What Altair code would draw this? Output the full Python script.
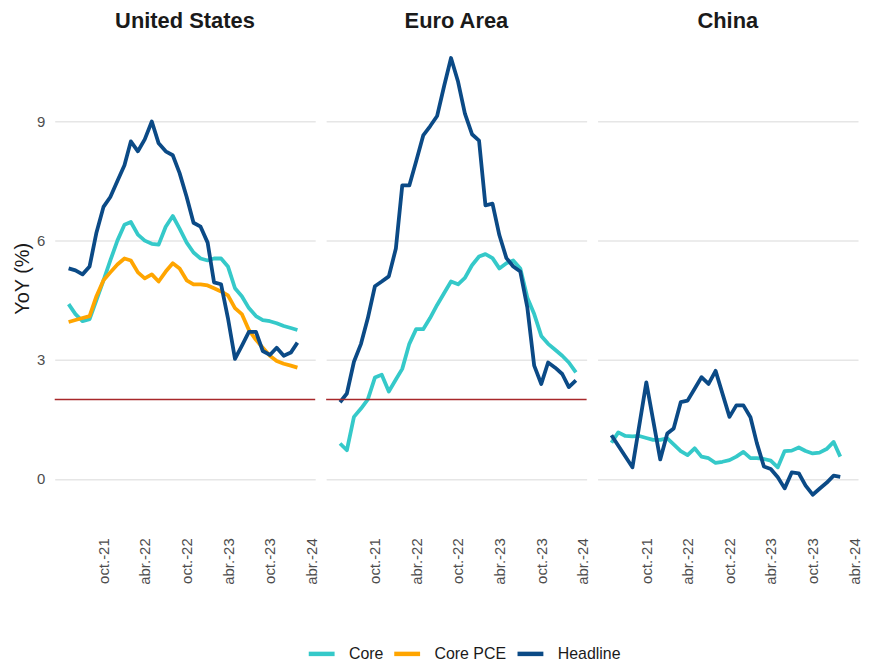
import altair as alt
import pandas as pd

# ---------------- data ----------------
regions = ["United States", "Euro Area", "China"]
series = ["Core", "Core PCE", "Headline"]
colors = ["#35C9C9", "#FFA500", "#0B4A86"]

months = [
    "2021-06-01", "2021-07-01", "2021-08-01", "2021-09-01", "2021-10-01", "2021-11-01",
    "2021-12-01", "2022-01-01", "2022-02-01", "2022-03-01", "2022-04-01", "2022-05-01",
    "2022-06-01", "2022-07-01", "2022-08-01", "2022-09-01", "2022-10-01", "2022-11-01",
    "2022-12-01", "2023-01-01", "2023-02-01", "2023-03-01", "2023-04-01", "2023-05-01",
    "2023-06-01", "2023-07-01", "2023-08-01", "2023-09-01", "2023-10-01", "2023-11-01",
    "2023-12-01", "2024-01-01", "2024-02-01", "2024-03-01", "2024-04-01",
]

us_headline = [5.3, 5.25, 5.15, 5.35, 6.2, 6.85, 7.1, 7.5, 7.9, 8.5, 8.25, 8.55, 9.0, 8.45,
               8.25, 8.15, 7.7, 7.1, 6.45, 6.35, 5.95, 4.95, 4.9, 4.05, 3.02, 3.35, 3.7, 3.7,
               3.22, 3.12, 3.3, 3.1, 3.18, 3.43]
us_core = [4.4, 4.15, 3.97, 4.02, 4.5, 5.0, 5.5, 6.0, 6.4, 6.47, 6.15, 6.0, 5.92, 5.9, 6.35,
           6.62, 6.3, 5.95, 5.7, 5.55, 5.5, 5.55, 5.55, 5.35, 4.8, 4.6, 4.3, 4.1, 4.0, 3.97,
           3.92, 3.85, 3.8, 3.75]
us_core_pce = [3.95, 4.0, 4.05, 4.1, 4.6, 5.0, 5.2, 5.4, 5.55, 5.5, 5.2, 5.05, 5.15, 4.97,
               5.22, 5.43, 5.3, 5.0, 4.9, 4.9, 4.87, 4.8, 4.72, 4.62, 4.3, 4.15, 3.75, 3.5,
               3.3, 3.1, 2.97, 2.9, 2.85, 2.8]

ea_headline = [1.93, 2.15, 2.95, 3.4, 4.05, 4.85, 4.97, 5.1, 5.8, 7.39, 7.39, 8.0, 8.65, 8.88,
               9.14, 9.9, 10.6, 10.0, 9.2, 8.68, 8.52, 6.89, 6.93, 6.14, 5.56, 5.35, 5.22,
               4.31, 2.85, 2.39, 2.93, 2.8, 2.64, 2.31, 2.48]
ea_core = [0.89, 0.72, 1.56, 1.77, 2.0, 2.55, 2.62, 2.2, 2.5, 2.77, 3.4, 3.77, 3.77, 4.05,
           4.38, 4.68, 4.97, 4.9, 5.06, 5.38, 5.6, 5.66, 5.56, 5.3, 5.43, 5.5, 5.3, 4.56,
           4.15, 3.6, 3.4, 3.25, 3.1, 2.93, 2.68]

cn_headline = [1.1, None, None, 0.29, None, 2.43, None, 0.49, 1.14, 1.27, 1.93, 1.97, 2.27,
               2.56, 2.39, 2.72, None, 1.56, 1.85, 1.85, 1.55, 0.9, 0.31, 0.25, 0.04, -0.24,
               0.16, 0.14, -0.17, -0.4, -0.25, -0.1, 0.08, 0.05]
cn_core = [0.91, 1.17, 1.08, 1.07, 1.08, 1.03, 0.98, 0.98, 1.02, 0.87, 0.7, 0.6, 0.77, 0.56,
           0.52, 0.4, 0.43, 0.47, 0.56, 0.68, 0.52, 0.52, 0.5, 0.46, 0.29, 0.7, 0.71, 0.79,
           0.7, 0.64, 0.66, 0.75, 0.93, 0.56]

target_value = 2.0
target_regions = ["United States", "Euro Area"]

tick_dates = [(2021, 10), (2022, 4), (2022, 10), (2023, 4), (2023, 10), (2024, 4)]
tick_labels = ["oct.-21", "abr.-22", "oct.-22", "abr.-23", "oct.-23", "abr.-24"]

y_ticks = [0, 3, 6, 9]

# ---------------- table ----------------
table = {
    "United States": {"Core": us_core, "Core PCE": us_core_pce, "Headline": us_headline},
    "Euro Area": {"Core": ea_core, "Headline": ea_headline},
    "China": {"Core": cn_core, "Headline": cn_headline},
}
rows = []
for reg in regions:
    for s in series:
        vals = table[reg].get(s)
        if vals is None:
            continue
        for d, v in zip(months, vals):
            if v is None:
                continue
            rows.append({
                "region": reg, "series": s, "date": d, "value": v,
                "target": target_value if reg in target_regions else None,
            })
df = pd.DataFrame(rows)

# ---------------- chart ----------------
FONT = "Liberation Sans"

label_expr = ""
for (yy, mm), lab in zip(tick_dates, tick_labels):
    label_expr += f"(utcyear(datum.value)=={yy} && utcmonth(datum.value)=={mm - 1}) ? '{lab}' : "
label_expr += "''"

x_enc = alt.X(
    "date:T",
    title=None,
    scale=alt.Scale(
        type="utc",
        domain=[alt.DateTime(year=2021, month=4, date=1, utc=True),
                alt.DateTime(year=2024, month=5, date=18, utc=True)],
    ),
    axis=alt.Axis(
        values=[alt.DateTime(year=yy, month=mm, date=1, utc=True) for yy, mm in tick_dates],
        labelExpr=label_expr,
        labelAngle=270,
        labelAlign="right",
        labelBaseline="top",
        labelPadding=17,
        labelFontSize=15,
        labelColor="#4D4D4D",
        labelFont=FONT,
        grid=False,
        ticks=False,
        domain=False,
    ),
)

y_enc = alt.Y(
    "value:Q",
    title="YoY (%)",
    scale=alt.Scale(domain=[-1.06, 11.16], nice=False, zero=False),
    axis=alt.Axis(
        values=y_ticks,
        labelFontSize=15,
        labelColor="#4D4D4D",
        labelFont=FONT,
        labelPadding=9,
        titleFontSize=20,
        titleFont=FONT,
        titleFontWeight="normal",
        titleColor="#1A1A1A",
        titlePadding=4,
        grid=True,
        gridColor="#E6E6E6",
        gridWidth=1.5,
        ticks=False,
        domain=False,
    ),
)

lines = alt.Chart().mark_line(strokeWidth=3.8, strokeJoin="round").encode(
    x=x_enc,
    y=y_enc,
    color=alt.Color(
        "series:N",
        scale=alt.Scale(domain=series, range=colors),
        legend=alt.Legend(
            title=None,
            orient="none",
            legendX=253,
            legendY=606,
            direction="horizontal",
            symbolType="stroke",
            symbolStrokeWidth=4.5,
            symbolSize=676,
            labelFontSize=16,
            labelFont=FONT,
            labelColor="#1A1A1A",
            labelOffset=12,
            columnPadding=1,
        ),
    ),
    order=alt.Order("date:T"),
)

rule = alt.Chart().transform_filter("isValid(datum.target)").mark_rule(
    color="#A8282B", strokeWidth=1.5
).encode(
    y=alt.Y("mean(target):Q", title="YoY (%)"),
)

chart = alt.layer(lines, rule, data=df).properties(
    width=262, height=488
).facet(
    column=alt.Column(
        "region:N",
        sort=regions,
        title=None,
        header=alt.Header(
            labelFontSize=22,
            labelFontWeight="bold",
            labelFont=FONT,
            labelColor="#1A1A1A",
            labelPadding=3,
        ),
    ),
    spacing=9,
).properties(
    padding={"left": 4, "top": 0, "right": 0, "bottom": 0}
).configure_view(
    stroke=None
)

chart.save("out.html", embed_options={"renderer": "svg", "actions": False})
